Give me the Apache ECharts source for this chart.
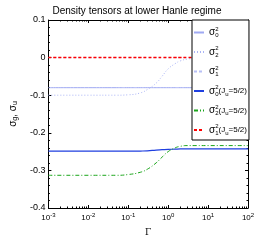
<!DOCTYPE html>
<html><head><meta charset="utf-8">
<script src="https://cdn.jsdelivr.net/npm/echarts@6/dist/echarts.min.js"></script>
<style>html,body{margin:0;padding:0;background:#fff}#c{width:274px;height:242px}</style>
</head><body><div id="c"></div>
<script>
const gamma = [0.001, 0.01, 0.05, 0.1, 0.2, 0.3, 0.5, 0.7, 1, 1.5, 2, 3, 5, 10, 100];
const sig0 = [-0.08, -0.08, -0.08, -0.08, -0.08, -0.08, -0.08, -0.08, -0.08, -0.08, -0.08, -0.08, -0.08, -0.08, -0.08];
const sig2 = [-0.1, -0.1, -0.1, -0.099, -0.094, -0.085, -0.068, -0.05, -0.03, -0.016, -0.009, -0.004, -0.002, 0, 0];
const sig1 = [0, 0, 0, 0, 0, 0, 0, 0, 0, 0, 0, 0, 0, 0, 0];
const sig0u = [-0.249, -0.249, -0.249, -0.249, -0.2485, -0.248, -0.246, -0.245, -0.244, -0.2435, -0.243, -0.243, -0.243, -0.243, -0.243];
const sig2u = [-0.313, -0.313, -0.313, -0.311, -0.305, -0.297, -0.28, -0.265, -0.25, -0.24, -0.236, -0.234, -0.234, -0.234, -0.234];
const sig1u = [0, 0, 0, 0, 0, 0, 0, 0, 0, 0, 0, 0, 0, 0, 0];
const names = ['s0', 's2', 's1', 's0u', 's2u', 's1u'];
const legendText = {
  s0: '{s|σ}{sup|2}{sub|0}',
  s2: '{s|σ}{sup|2}{sub|2}',
  s1: '{s|σ}{sup|2}{sub|1}',
  s0u: '{s|σ}{sup|2}{sub|0}{t|(J}{sub|u}{t|=5/2)}',
  s2u: '{s|σ}{sup|2}{sub|2}{t|(J}{sub|u}{t|=5/2)}',
  s1u: '{s|σ}{sup|2}{sub|1}{t|(J}{sub|u}{t|=5/2)}'
};
const FONT = 'Liberation Sans';
const pair = arr => gamma.map((g, i) => [g, arr[i]]);
function mk(name, arr, color, type, width, z) {
  return { name, type: 'line', data: pair(arr), symbol: 'none', smooth: true, z: z || 2,
    lineStyle: { color, type, width }, itemStyle: { color }, animation: false };
}
const chart = echarts.init(document.getElementById('c'), null, { renderer: 'canvas' });
const rich = {
  s: { fontSize: 10, fontFamily: FONT, color: '#000' },
  t: { fontSize: 8, fontFamily: FONT, color: '#000' },
  sup: { fontSize: 6, fontFamily: FONT, color: '#000', verticalAlign: 'top', padding: [0, 0, 7, 0], width: 0.01 },
  sub: { fontSize: 6, fontFamily: FONT, color: '#000', padding: [6, 0, 0, 0] }
};
const supLab = v => {
  const e = Math.round(Math.log10(v));
  return '{b|10}{e|' + e + '}';
};
const xBase = {
  type: 'log', logBase: 10, min: 0.001, max: 100,
  axisLine: { onZero: false, lineStyle: { color: '#000', width: 1 } },
  axisTick: { inside: true, length: 3, lineStyle: { color: '#000' } },
  minorTick: { show: true, splitNumber: 9, length: 1.5, lineStyle: { color: '#000' } },
  splitLine: { show: false }
};
chart.setOption({
  animation: false,
  title: { text: 'Density tensors at lower Hanle regime', left: 'center', top: 1,
    textStyle: { fontSize: 10, fontWeight: 'normal', fontFamily: FONT, color: '#000' } },
  grid: { left: 38, right: 26, top: 20, bottom: 30 },
  legend: {
    data: names, orient: 'vertical', left: 192, top: 20, width: 56,
    backgroundColor: '#fff', borderColor: '#000', borderWidth: 1,
    padding: [6, 2, 4, 1], itemGap: 7, itemWidth: 10, itemHeight: 10,
    itemStyle: { color: 'transparent', borderWidth: 0, opacity: 0 },
    formatter: n => legendText[n],
    textStyle: { rich, fontSize: 8, fontFamily: FONT, color: '#000' }
  },
  xAxis: [Object.assign({}, xBase, {
    name: 'Γ', nameLocation: 'middle', nameGap: 20,
    nameTextStyle: { fontSize: 9, fontFamily: 'DejaVu Serif', color: '#000' },
    axisLabel: { margin: 4, formatter: supLab,
      rich: { b: { fontSize: 8, fontFamily: FONT, color: '#000' },
              e: { fontSize: 6, fontFamily: FONT, color: '#000', padding: [0, 0, 6, 0] } } }
  }), Object.assign({}, xBase, { position: 'top', axisLabel: { show: false } })],
  yAxis: [{
    type: 'value', min: -0.4, max: 0.1, interval: 0.1,
    name: '{s|σ}{b|g}{s|, σ}{b|u}', nameLocation: 'middle', nameGap: 24, nameRotate: 90,
    nameTextStyle: { rich: { s: { fontSize: 10, fontFamily: FONT, color: '#000' },
      b: { fontSize: 7, fontFamily: FONT, color: '#000', padding: [5, 0, 0, 0] } } },
    axisLine: { show: true, onZero: false, lineStyle: { color: '#000', width: 1 } },
    axisTick: { inside: true, length: 3, lineStyle: { color: '#000' } },
    minorTick: { show: true, splitNumber: 5, length: 1.5, lineStyle: { color: '#000' } },
    splitLine: { show: false },
    axisLabel: { margin: 3, fontSize: 9, fontFamily: FONT, color: '#000',
      formatter: v => { const r = Math.round(v * 10) / 10; return r === 0 ? '0' : String(r); } }
  }, {
    type: 'value', min: -0.4, max: 0.1, interval: 0.1, position: 'right',
    axisLine: { show: true, onZero: false, lineStyle: { color: '#000', width: 1 } },
    axisTick: { inside: true, length: 3, lineStyle: { color: '#000' } },
    minorTick: { show: true, splitNumber: 5, length: 1.5, lineStyle: { color: '#000' } },
    splitLine: { show: false }, axisLabel: { show: false }
  }],
  series: [
    mk('s0', sig0, '#9fa9f2', 'solid', 1),
    mk('s2', sig2, '#aab4f5', [1, 2], 1),
    mk('s1', sig1, '#b8c0f6', [3, 2], 1, 1),
    mk('s0u', sig0u, '#1f3fe0', 'solid', 1.2),
    mk('s2u', sig2u, '#1aa51a', [4, 2, 1, 2], 1),
    mk('s1u', sig1u, '#ff0000', [3, 2], 1.5, 3)
  ]
});
</script></body></html>
